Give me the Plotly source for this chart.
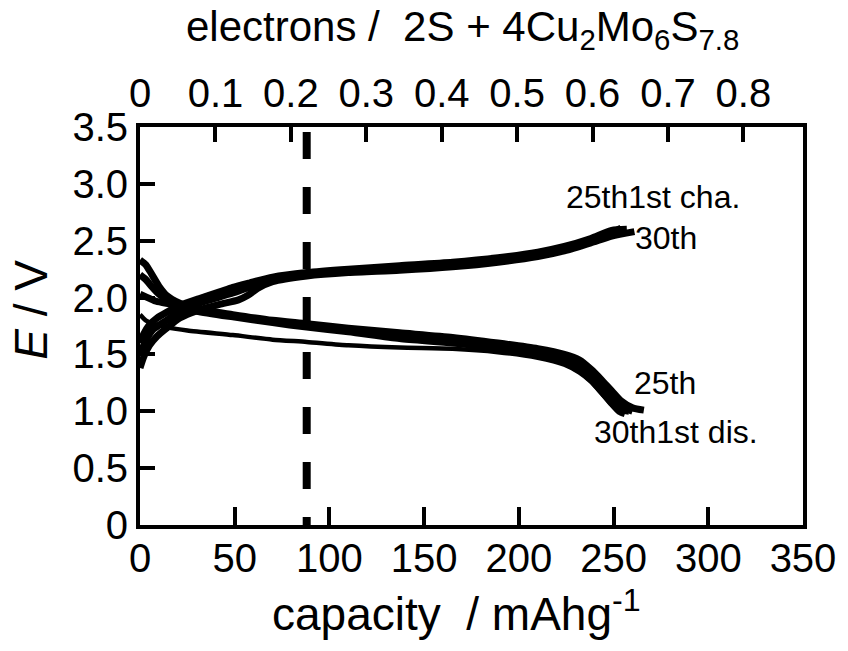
import plotly.graph_objects as go

# ---- charge curves (capacity / mAh g-1, potential / V) ----
cha_1st_cap = [0, 3, 7, 14, 21, 31, 49, 70, 88, 137, 189, 224, 249, 254]
cha_1st_E = [1.50, 1.62, 1.72, 1.80, 1.88, 1.95, 2.04, 2.16, 2.21, 2.26, 2.33, 2.44, 2.57, 2.61]

cha_25th_cap = [0, 2, 5, 9, 14, 21, 31, 42, 49, 58, 70, 88, 110, 137, 165, 189, 210, 224, 238, 249, 257]
cha_25th_E = [1.60, 1.68, 1.76, 1.82, 1.87, 1.93, 1.99, 2.05, 2.09, 2.13, 2.18, 2.22, 2.25, 2.28,
              2.31, 2.35, 2.40, 2.45, 2.52, 2.59, 2.60]

cha_30th_cap = [0, 2, 5, 9, 14, 21, 31, 42, 52, 57, 62, 70, 88, 110, 137, 165, 189, 210, 224, 238, 249, 261]
cha_30th_E = [1.38, 1.48, 1.58, 1.66, 1.73, 1.82, 1.89, 1.94, 1.98, 2.02, 2.08, 2.14, 2.19, 2.22,
              2.24, 2.27, 2.31, 2.36, 2.41, 2.48, 2.54, 2.58]

# ---- discharge curves ----
dis_1st_cap = [0, 3, 7, 14, 25, 49, 70, 88, 110, 137, 165, 189, 210, 224, 232, 238, 244, 249, 254, 258]
dis_1st_E = [1.85, 1.80, 1.77, 1.74, 1.71, 1.67, 1.63, 1.61, 1.58, 1.56, 1.55, 1.52, 1.47, 1.41,
             1.34, 1.26, 1.15, 1.06, 1.00, 0.99]

dis_25th_cap = [0, 3, 6, 10, 14, 21, 30, 49, 70, 88, 110, 137, 165, 189, 210, 224, 232, 238, 244,
                249, 254, 260, 266]
dis_25th_E = [2.33, 2.29, 2.21, 2.10, 2.02, 1.95, 1.90, 1.85, 1.80, 1.77, 1.73, 1.69, 1.65, 1.60,
              1.55, 1.50, 1.45, 1.37, 1.27, 1.18, 1.09, 1.03, 1.01]

dis_mid_cap = [0, 3, 6, 10, 15, 21, 30, 49, 70, 88, 110, 137, 165, 189, 210, 224, 232, 238, 244,
               249, 254, 260]
dis_mid_E = [2.20, 2.16, 2.10, 2.03, 1.97, 1.93, 1.89, 1.84, 1.79, 1.75, 1.71, 1.66, 1.62, 1.57,
             1.52, 1.46, 1.40, 1.32, 1.22, 1.12, 1.04, 1.00]

dis_30th_cap = [0, 4, 8, 14, 21, 30, 49, 70, 88, 110, 137, 165, 189, 210, 224, 232, 238, 244, 249,
                253, 256]
dis_30th_E = [2.03, 2.00, 1.97, 1.95, 1.92, 1.88, 1.83, 1.78, 1.74, 1.70, 1.64, 1.60, 1.55, 1.49,
              1.43, 1.36, 1.28, 1.17, 1.07, 1.00, 0.98]

# vertical marker (capacity) and its span in potential
marker_cap = 88
marker_E = [3.456, 0]

# axis ticks
cap_ticks = [0, 50, 100, 150, 200, 250, 300, 350]
E_ticks = [0, 0.5, 1.0, 1.5, 2.0, 2.5, 3.0, 3.5]
E_ticklabels = ["0", "0.5", "1.0", "1.5", "2.0", "2.5", "3.0", "3.5"]
el_ticks = [0, 0.1, 0.2, 0.3, 0.4, 0.5, 0.6, 0.7, 0.8]
el_ticklabels = ["0", "0.1", "0.2", "0.3", "0.4", "0.5", "0.6", "0.7", "0.8"]
cap_range = [0, 350]
el_range = [0, 0.879]   # electrons equivalent of 0-350 mAh g-1

# curve labels: (text, capacity, potential)
label_text = ["25th1st cha.", "30th", "25th", "30th1st dis."]
label_cap = [270.9, 277.7, 277.2, 282.7]
label_E = [2.885, 2.524, 1.245, 0.818]

FONT = "Liberation Sans, Arial, sans-serif"

fig = go.Figure()
curves = [(cha_1st_cap, cha_1st_E, 7), (cha_25th_cap, cha_25th_E, 7), (cha_30th_cap, cha_30th_E, 7),
          (dis_1st_cap, dis_1st_E, 4.5), (dis_25th_cap, dis_25th_E, 7), (dis_mid_cap, dis_mid_E, 7),
          (dis_30th_cap, dis_30th_E, 7)]
for xs, ys, w in curves:
    fig.add_trace(go.Scatter(x=xs, y=ys, mode="lines",
                             line=dict(color="black", width=w, shape="spline", smoothing=0.6),
                             showlegend=False, hoverinfo="skip"))

fig.add_trace(go.Scatter(x=[marker_cap] * len(marker_E), y=marker_E, mode="lines",
                         line=dict(color="black", width=8, dash="27px,28px"),
                         showlegend=False, hoverinfo="skip"))

# electrons axis carrier
fig.add_trace(go.Scatter(x=el_range, y=[None, None], xaxis="x2", mode="lines",
                         showlegend=False, hoverinfo="skip"))

for t, cx, cy in zip(label_text, label_cap, label_E):
    fig.add_annotation(x=cx, y=cy, text=t, showarrow=False,
                       font=dict(family=FONT, size=32, color="black"))

# axis titles
fig.add_annotation(xref="paper", yref="paper", x=0.478, y=-0.215, yanchor="middle",
                   text="capacity\u00a0 / mAhg<sup>-1</sup>", showarrow=False,
                   font=dict(family=FONT, size=46, color="black"))
fig.add_annotation(xref="paper", yref="paper", x=0.487, y=1.245, yanchor="middle",
                   text="electrons /\u00a0 2S + 4Cu<sub>2</sub>Mo<sub>6</sub>S<sub>7.8</sub>",
                   showarrow=False, font=dict(family=FONT, size=42, color="black"))
fig.add_annotation(xref="paper", yref="paper", x=-0.165, y=0.54, xanchor="center", yanchor="middle",
                   textangle=-90, text="<i>E</i> / V", showarrow=False,
                   font=dict(family=FONT, size=46, color="black"))

axis_common = dict(showgrid=False, zeroline=False, showline=True, linecolor="black", linewidth=4,
                   ticks="inside", tickcolor="black", tickwidth=4,
                   tickfont=dict(family=FONT, size=40, color="black"))

fig.update_layout(
    width=848, height=651,
    margin=dict(l=140, r=42, t=127, b=126),
    paper_bgcolor="white", plot_bgcolor="white",
    xaxis=dict(axis_common, range=cap_range, tickvals=cap_ticks, ticklen=18, mirror=False,
               ticklabelstandoff=-5),
    xaxis2=dict(axis_common, range=el_range, tickvals=el_ticks, ticktext=el_ticklabels,
                overlaying="x", side="top", ticklen=15,
                tickfont=dict(family=FONT, size=40, color="black")),
    yaxis=dict(axis_common, range=[0, 3.5], tickvals=E_ticks, ticktext=E_ticklabels,
               ticklen=15, mirror=True),
    showlegend=False,
)

fig.write_html("out.html")
